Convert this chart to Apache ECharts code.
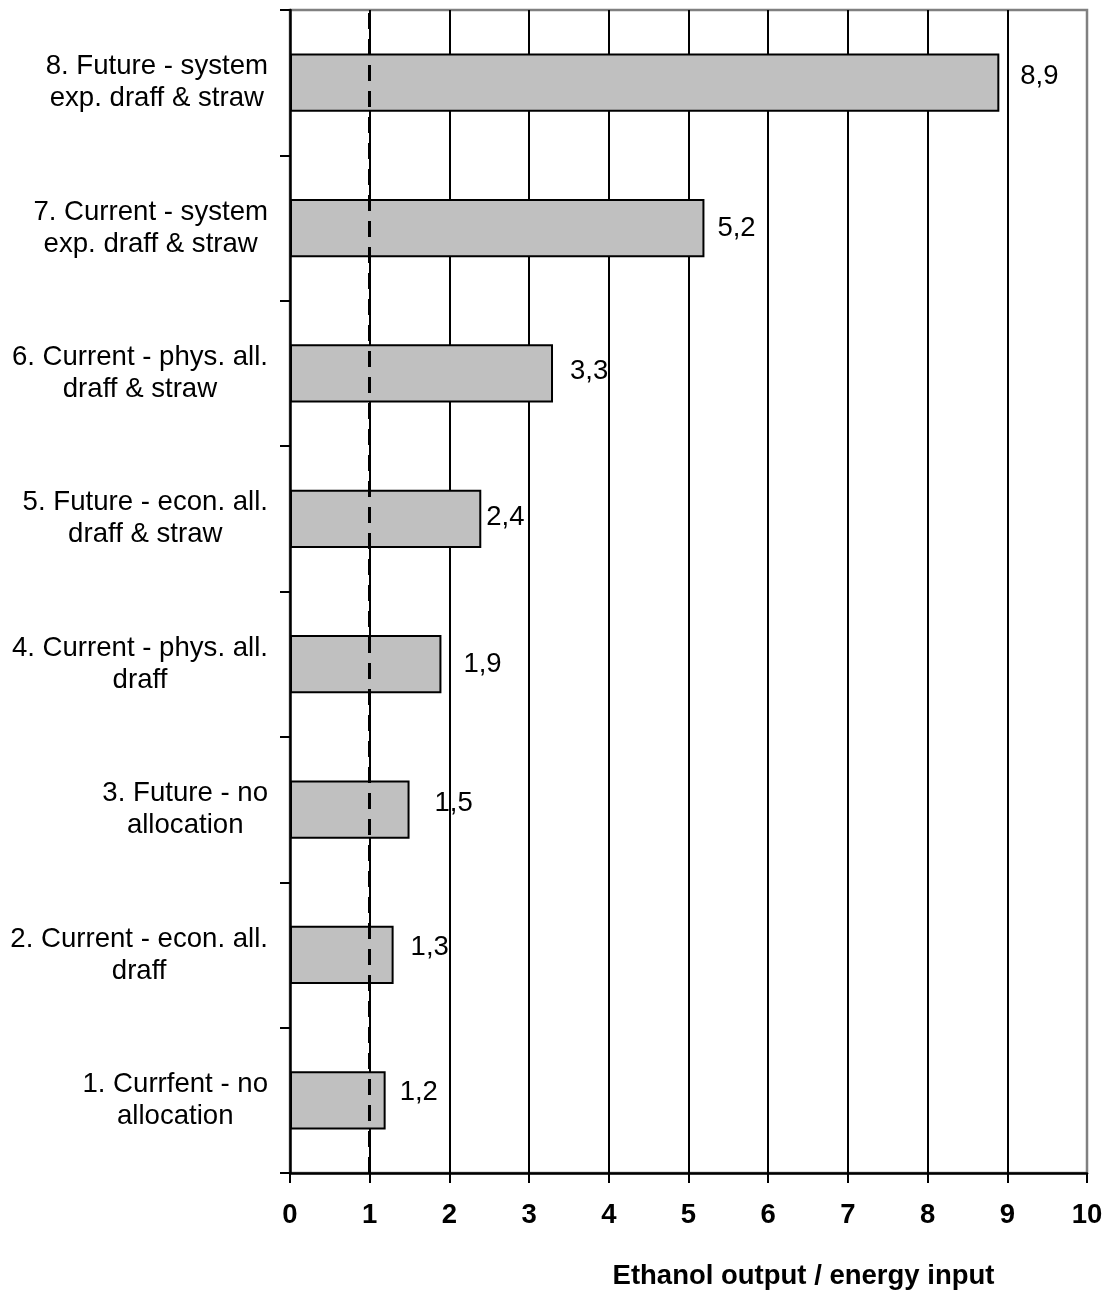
<!DOCTYPE html>
<html>
<head>
<meta charset="utf-8">
<title>Ethanol output / energy input</title>
<script src="https://cdn.jsdelivr.net/npm/echarts@6/dist/echarts.min.js"></script>
<style>
  html, body { margin: 0; padding: 0; background: #ffffff; }
  #chart { width: 1108px; height: 1297px; }
</style>
</head>
<body>
<div id="chart"></div>
<script>
// Scenario names, listed bottom to top
const categories = [
  '1. Currfent - no\nallocation',
  '2. Current - econ. all.\ndraff',
  '3. Future - no\nallocation',
  '4. Current - phys. all.\ndraff',
  '5. Future - econ. all.\ndraff & straw',
  '6. Current - phys. all.\ndraff & straw',
  '7. Current - system\nexp. draff & straw',
  '8. Future - system\nexp. draff & straw'
];

// Energy ratio per scenario
const ratios = [1.2, 1.3, 1.5, 1.9, 2.4, 3.3, 5.2, 8.9];

// Break-even reference (output equals input)
const breakEven = 1;

// Value-axis ticks
const xTicks = [0, 1, 2, 3, 4, 5, 6, 7, 8, 9, 10];

// Hand placement of the value labels beside each bar: [dx, dy] in px
const labelNudge = [
  [14, -8], [17, -8], [25, -6], [22, 0],
  [5, -1], [17, -2], [13, 0], [21, -6]
];

const FONT = '"Liberation Sans", Arial, Helvetica, sans-serif';

const chart = echarts.init(document.getElementById('chart'), null, { renderer: 'canvas' });

const seriesData = ratios.map((v, i) => ({
  value: v,
  label: { offset: labelNudge[i] }
}));

chart.setOption({
  animation: false,
  backgroundColor: '#ffffff',
  grid: {
    left: 290, right: 21, top: 10, bottom: 124,
    containLabel: false,
    show: true,
    borderColor: '#808080',
    borderWidth: 2.5,
    backgroundColor: 'transparent'
  },
  xAxis: {
    type: 'value',
    min: xTicks[0],
    max: xTicks[xTicks.length - 1],
    interval: 1,
    name: 'Ethanol output / energy input',
    nameLocation: 'middle',
    nameGap: 89,
    nameTextStyle: {
      fontFamily: FONT, fontSize: 27.5, fontWeight: 'bold', color: '#000',
      padding: [0, 0, 0, 230],
      verticalAlign: 'top'
    },
    axisLine: { show: true, lineStyle: { color: '#000', width: 2.5 } },
    axisTick: { show: true, inside: false, length: 10, lineStyle: { color: '#000', width: 2 } },
    axisLabel: {
      margin: 28,
      fontFamily: FONT, fontSize: 27.5, fontWeight: 'bold', color: '#000',
      formatter: v => String(v)
    },
    splitLine: {
      show: true,
      showMinLine: false,
      showMaxLine: false,
      lineStyle: { color: '#000', width: 2 }
    }
  },
  yAxis: {
    type: 'category',
    data: categories,
    axisLine: { show: true, lineStyle: { color: '#000', width: 2.5 } },
    axisTick: { show: true, inside: false, length: 10, lineStyle: { color: '#000', width: 2 } },
    axisLabel: {
      margin: 22,
      align: 'right',
      formatter: s => s.split('\n').map(line => '{c|' + line + '}').join('\n'),
      rich: {
        c: {
          align: 'center',
          fontFamily: FONT, fontSize: 27.6, lineHeight: 32, color: '#000'
        }
      }
    },
    splitLine: { show: false }
  },
  series: [{
    type: 'bar',
    data: seriesData,
    barCategoryGap: '60%',
    itemStyle: { color: '#c0c0c0', borderColor: '#000', borderWidth: 2 },
    label: {
      show: true,
      position: 'right',
      distance: 0,
      fontFamily: FONT, fontSize: 27.5, color: '#000',
      formatter: p => String(p.value).replace('.', ',')
    },
    markLine: {
      silent: true,
      z: 10,
      symbol: ['none', 'none'],
      label: { show: false },
      lineStyle: { color: '#000', width: 3, type: [16, 10] },
      data: [{ xAxis: breakEven }]
    }
  }]
});
</script>
</body>
</html>
